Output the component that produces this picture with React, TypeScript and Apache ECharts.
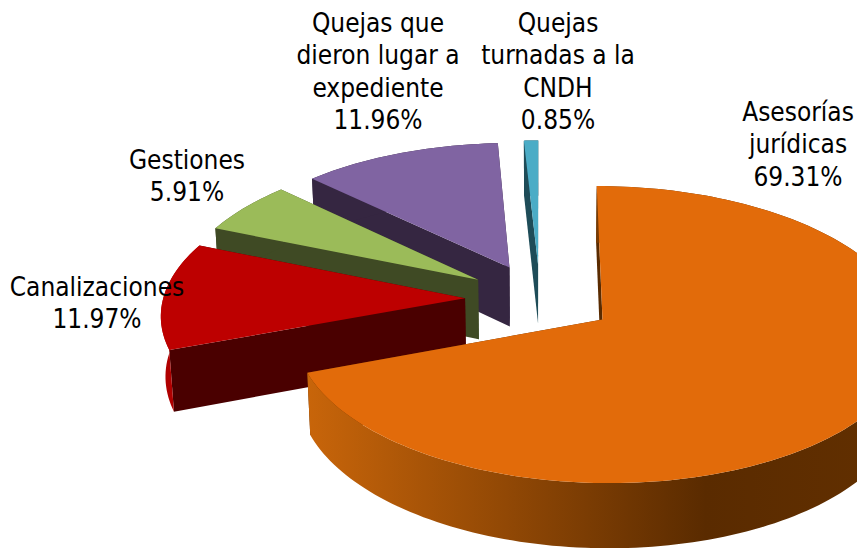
import React, { useEffect, useRef } from "react";
import * as echarts from "echarts";

const categories = [
  "Asesorías jurídicas",
  "Canalizaciones",
  "Gestiones",
  "Quejas que dieron lugar a expediente",
  "Quejas turnadas a la CNDH",
];
const values = [69.31, 11.97, 5.91, 11.96, 0.85];
const labelLines = [
  ["Asesorías", "jurídicas", "69.31%"],
  ["Canalizaciones", "11.97%"],
  ["Gestiones", "5.91%"],
  ["Quejas que", "dieron lugar a", "expediente", "11.96%"],
  ["Quejas", "turnadas a la", "CNDH", "0.85%"],
];
const labelAnchors = [
  [798, 99],
  [97, 274],
  [187, 147],
  [378, 10],
  [558, 10],
];
const topColors = ["#e26b0a", "#bd0000", "#9bbb59", "#8064a2", "#4bacc6"];
const wallColors = ["#5a2b00", "#4a0000", "#3f4a24", "#352641", "#1e4c58"];
const rimColors = ["#8a4505", "#b00000", "#3f4a24", "#352641", "#1e4c58"];

const CX = 540;
const CY = 299;
const RADIUS = 302;
const EXPLODE = 75;
const SIN_TILT = 0.473;
const COS_TILT = Math.sqrt(1 - SIN_TILT * SIN_TILT);
const PERSPECTIVE = 0.1;
const DIST = (RADIUS * COS_TILT) / PERSPECTIVE;
const DEPTH = 69;
const FONT = '26px "DejaVu Sans Condensed"';
const LINE_H = 32.3;

const total = values.reduce((a, b) => a + b, 0);
const starts: number[] = [];
values.reduce((acc, v, i) => {
  starts[i] = acc;
  return acc + (v / total) * Math.PI * 2;
}, 0);

function project(X: number, Y: number, Z: number): number[] {
  const p = DIST / (DIST - (Y * COS_TILT + Z * SIN_TILT));
  return [CX + X * p, CY + (Y * SIN_TILT - Z * COS_TILT) * p];
}

function renderItem(params: any, api: any) {
  const i = params.dataIndex;
  const idx = values.length - 1 - i;
  const a0 = starts[idx];
  const a1 = a0 + (api.value(0) / total) * Math.PI * 2;
  const mid = (a0 + a1) / 2;
  const ex = EXPLODE * Math.sin(mid);
  const ey = -EXPLODE * Math.cos(mid);
  const steps = Math.max(8, Math.ceil((a1 - a0) * 40));
  const arcTop: number[][] = [];
  const arcBot: number[][] = [];
  for (let s = 0; s <= steps; s++) {
    const t = a0 + ((a1 - a0) * s) / steps;
    const X = ex + RADIUS * Math.sin(t);
    const Y = ey - RADIUS * Math.cos(t);
    arcTop.push(project(X, Y, 0));
    arcBot.push(project(X, Y, -DEPTH));
  }
  const apexTop = project(ex, ey, 0);
  const apexBot = project(ex, ey, -DEPTH);
  const wall = (topP: number[], botP: number[]) => ({
    type: "polygon",
    silent: true,
    shape: { points: [topP, apexTop, apexBot, botP] },
    style: { fill: wallColors[idx] },
  });
  const rimFill: any =
    idx === 0
      ? new echarts.graphic.LinearGradient(0, 0, 1, 0, [
          { offset: 0, color: "#c8650a" },
          { offset: 0.66, color: "#5a2b00" },
          { offset: 1, color: "#633000" },
        ])
      : rimColors[idx];
  const children: any[] = [
    wall(arcTop[arcTop.length - 1], arcBot[arcBot.length - 1]),
    wall(arcTop[0], arcBot[0]),
    {
      type: "polygon",
      silent: true,
      shape: { points: arcTop.concat(arcBot.slice().reverse()) },
      style: { fill: rimFill },
    },
    {
      type: "polygon",
      silent: true,
      shape: { points: [apexTop].concat(arcTop) },
      style: { fill: topColors[idx] },
    },
  ];
  labelLines[idx].forEach((line, n) => {
    children.push({
      type: "text",
      silent: true,
      z2: 100,
      style: {
        text: line,
        x: labelAnchors[idx][0],
        y: labelAnchors[idx][1] + n * LINE_H,
        font: FONT,
        fill: "#000000",
        align: "center",
        verticalAlign: "top",
      },
    });
  });
  return { type: "group", children };
}

export default function App() {
  const ref = useRef<HTMLDivElement>(null);
  useEffect(() => {
    const chart = echarts.init(ref.current!, undefined, { renderer: "svg" });
    const order = values.map((_, i) => values.length - 1 - i);
    chart.setOption({
      animation: false,
      backgroundColor: "#ffffff",
      series: [
        {
          type: "custom",
          coordinateSystem: "none",
          renderItem,
          data: order.map((i) => ({ name: categories[i], value: [values[i]] })),
        },
      ],
    });
    return () => chart.dispose();
  }, []);
  return (
    <div
      ref={ref}
      style={{ position: "fixed", left: 0, top: 0, width: 857, height: 548 }}
    />
  );
}
